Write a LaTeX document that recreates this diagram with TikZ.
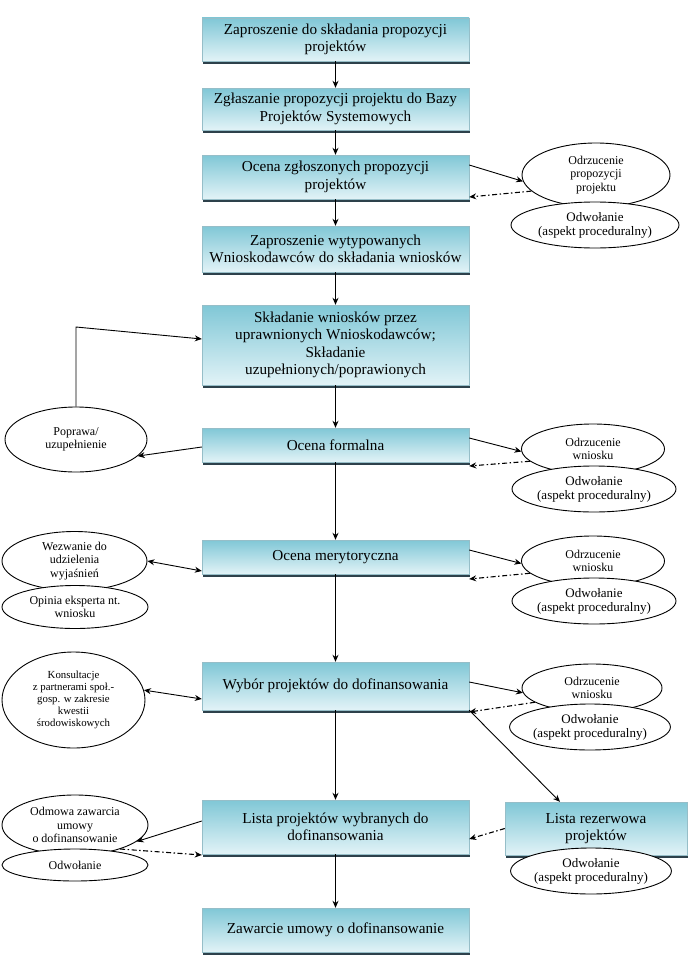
\documentclass[tikz,border=0pt]{standalone}
\usepackage{fontspec}
\setmainfont{Liberation Serif}
\usetikzlibrary{shapes.geometric,arrows.meta,shadows,calc}
\definecolor{boxtop}{RGB}{128,199,214}
\definecolor{boxbot}{RGB}{226,243,247}
\definecolor{boxline}{RGB}{150,190,200}
\definecolor{shadowc}{RGB}{45,65,75}
\tikzset{
 mainbox/.style={rectangle, draw=boxline, line width=0.4pt, top color=boxtop, bottom color=boxbot,
   minimum width=267pt, inner sep=0pt, align=center, font=\fontsize{15.2}{17.5}\selectfont,
   drop shadow={shadow xshift=1pt, shadow yshift=-3pt, fill=shadowc, opacity=1}},
 oval/.style={ellipse, draw=black, line width=0.9pt, fill=white, inner sep=0pt, align=center,
   font=\fontsize{12}{13.6}\selectfont},
 ovalb/.style={oval, font=\fontsize{13}{14}\selectfont},
 arr/.style={line width=0.9pt, -{Stealth[length=7pt,width=6pt]}},
 darr/.style={line width=0.9pt, {Stealth[length=7pt,width=6pt]}-{Stealth[length=7pt,width=6pt]}},
 dd/.style={line width=1.1pt, dash pattern=on 5pt off 2.5pt on 1.5pt off 2.5pt, -{Stealth[length=7pt,width=6pt]}},
}
\begin{document}
\begin{tikzpicture}[x=1pt,y=-1pt]
\useasboundingbox (0,0) rectangle (688,958);
\fill[white] (0,0) rectangle (688,958);
% main boxes
\node[mainbox, minimum height=43pt] (b1) at (335.5,39.5) {Zaproszenie do składania propozycji\\projektów};
\node[mainbox, minimum height=42pt] (b2) at (335.5,109) {Zgłaszanie propozycji projektu do Bazy\\Projektów Systemowych};
\node[mainbox, minimum height=44pt] (b3) at (335.5,177) {Ocena zgłoszonych propozycji\\projektów};
\node[mainbox, minimum height=46pt] (b4) at (335.5,249) {Zaproszenie wytypowanych\\Wnioskodawców do składania wniosków};
\node[mainbox, minimum height=80pt] (b5) at (335.5,345) {Składanie wniosków przez\\uprawnionych Wnioskodawców;\\Składanie\\uzupełnionych/poprawionych};
\node[mainbox, minimum height=34pt] (b6) at (335.5,445) {Ocena formalna};
\node[mainbox, minimum height=34pt] (b7) at (335.5,557) {Ocena merytoryczna};
\node[mainbox, minimum height=48pt] (b8) at (335.5,686) {Wybór projektów do dofinansowania};
\node[mainbox, minimum height=54pt] (b9) at (335.5,827) {Lista projektów wybranych do\\dofinansowania};
\node[mainbox, minimum height=53pt, minimum width=182pt] (b10) at (596,828.5) {Lista rezerwowa\\projektów};
\node[mainbox, minimum height=44pt] (b11) at (335.5,930) {Zawarcie umowy o dofinansowanie};
% right ellipses
\node[oval, minimum width=148pt, minimum height=64pt] (e1a) at (596,175) {Odrzucenie\\propozycji\\projektu};
\node[ovalb, minimum width=168pt, minimum height=46pt] (e1b) at (595,225) {Odwołanie\\(aspekt proceduralny)};
\node[oval, minimum width=143pt, minimum height=50pt] (e2a) at (593,449) {Odrzucenie\\wniosku};
\node[ovalb, minimum width=164pt, minimum height=46pt] (e2b) at (594,489) {Odwołanie\\(aspekt proceduralny)};
\node[oval, minimum width=143pt, minimum height=50pt] (e3a) at (593,561) {Odrzucenie\\wniosku};
\node[ovalb, minimum width=164pt, minimum height=46pt] (e3b) at (594,601) {Odwołanie\\(aspekt proceduralny)};
\node[oval, minimum width=140pt, minimum height=48pt] (e4a) at (592,688) {Odrzucenie\\wniosku};
\node[ovalb, minimum width=158pt, minimum height=46pt] (e4b) at (590,727) {Odwołanie\\(aspekt proceduralny)};
\node[ovalb, minimum width=158pt, minimum height=46pt] (e10) at (591,871) {Odwołanie\\(aspekt proceduralny)};
% left ellipses
\node[oval, minimum width=142pt, minimum height=65pt] (e5) at (76,439.5) {Poprawa/\\uzupełnienie};
\node[oval, minimum width=145pt, minimum height=59pt] (e6a) at (74.5,561) {Wezwanie do\\udzielenia\\wyjaśnień};
\node[oval, minimum width=146pt, minimum height=43pt] (e6b) at (75,607) {Opinia eksperta nt.\\wniosku};
\node[oval, minimum width=143pt, minimum height=96pt, font=\fontsize{10.8}{12}\selectfont] (e7) at (73.5,700) {Konsultacje\\z partnerami społ.-\\gosp. w zakresie\\kwestii\\środowiskowych};
\node[oval, minimum width=146pt, minimum height=60pt] (e8a) at (75,825) {Odmowa zawarcia\\umowy\\o dofinansowanie};
\node[oval, minimum width=146pt, minimum height=32pt] (e8b) at (75,865) {Odwołanie};
% main flow
\draw[arr] (b1) -- (b2);
\draw[arr] (b2) -- (b3);
\draw[arr] (b3) -- (b4);
\draw[arr] (b4) -- (b5);
\draw[arr] (b5) -- (b6);
\draw[arr] (b6) -- (b7);
\draw[arr] (b7) -- (b8);
\draw[arr] (b8) -- (b9);
\draw[arr] (b9) -- (b11);
% right side
\draw[arr] ([yshift=12pt]b3.east) -- (e1a.185);
\draw[dd] (e1a.194) -- ([yshift=-20pt]b3.east);
\draw[arr] ([yshift=7pt]b6.east) -- (e2a.182);
\draw[dd] (e2a.191) -- ([yshift=-21pt]b6.east);
\draw[arr] ([yshift=7pt]b7.east) -- (e3a.182);
\draw[dd] (e3a.191) -- ([yshift=-22pt]b7.east);
\draw[arr] ([yshift=4pt]b8.east) -- (e4a.184);
\draw[dd] (e4a.194) -- ([yshift=-26pt]b8.east);
\draw[arr] (b8.south east) -- ([xshift=-36pt]b10.north);
\draw[dd] (b10.west) -- ([yshift=-12pt]b9.east);
% left side
\coordinate (c1) at (76,327);
\draw[arr] ([yshift=-2pt]b6.west) -- (e5.345);
\draw[arr] (e5.north) -- (c1) -- ([yshift=6pt]b5.west);
\draw[darr] (e6a.east) -- ([yshift=-14pt]b7.west);
\draw[darr] (e7.8) -- ([yshift=-13pt]b8.west);
\draw[arr] ([yshift=6pt]b9.west) -- (e8a.345);
\draw[dd] (e8a.332) -- ([yshift=-28pt]b9.west);
\end{tikzpicture}
\end{document}
